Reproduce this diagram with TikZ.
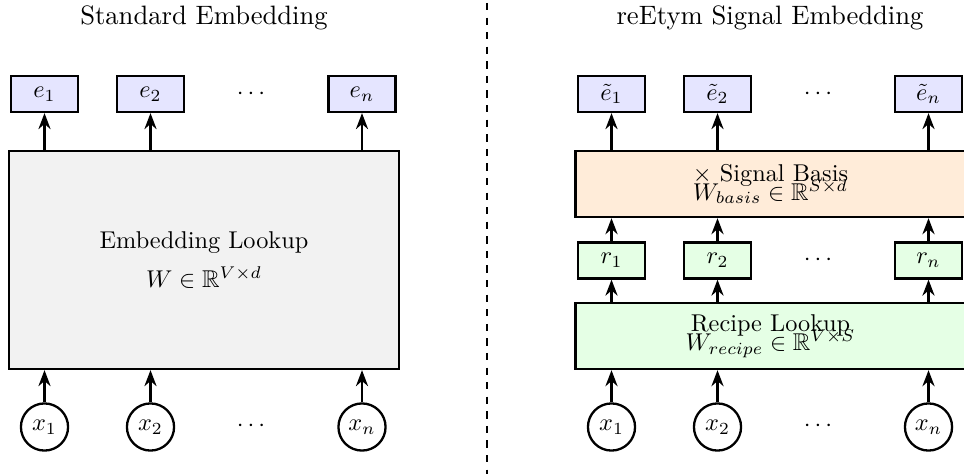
\documentclass[tikz,border=0pt]{standalone}
\usepackage{amsmath,amssymb}
\usetikzlibrary{arrows.meta}

\begin{document}
\begin{tikzpicture}[x=0.4115pt, y=-0.4115pt,
  lw/.style={line width=0.95pt},
  arr/.style={lw, -{Stealth[length=6.6pt, width=5pt]}},
  vecbox/.style={draw, lw, inner sep=0pt, minimum width=27.6pt, minimum height=14.8pt},
  embbox/.style={vecbox, fill=blue!10},
  recbox/.style={vecbox, fill=green!10},
  tokcirc/.style={draw, lw, circle, inner sep=0pt, minimum size=19.4pt},
  layerbox/.style={draw, lw, align=center, inner sep=0pt, minimum width=160.5pt},
  paneltitle/.style={anchor=base, font=\fontsize{10.95}{13.6}\selectfont},
  dotsnode/.style={inner sep=0pt}
]
\useasboundingbox (0,0) rectangle (964,474);

% divider between the two panels
\coordinate (divtop) at (487,3);
\coordinate (divbot) at (487,480);
\draw[lw, dashed] (divtop) -- (divbot);

% ---------------- standard embedding ----------------
\node[paneltitle] (tstd) at (204,25) {Standard Embedding};

\node[layerbox, fill=gray!10, minimum height=89.7pt] (lookup) at (204,260)
  {Embedding Lookup\\[4pt]$W \in \mathbb{R}^{V\times d}$};

\node[embbox] (e1) at (44.5,94) {$e_1$};
\node[embbox] (e2) at (150.5,94) {$e_2$};
\node[dotsnode] (edots) at (253,94) {$\cdots$};
\node[embbox] (en) at (362,94) {$e_n$};

\node[tokcirc] (x1) at (44.5,427) {$x_1$};
\node[tokcirc] (x2) at (150.5,427) {$x_2$};
\node[dotsnode] (xdots) at (253,426) {$\cdots$};
\node[tokcirc] (xn) at (362,427) {$x_n$};

\foreach \t in {1,2,n}{
  \draw[arr] (x\t) -- (x\t |- lookup.south);
  \draw[arr] (lookup.north -| e\t) -- (e\t);
}

% ---------------- reEtym signal embedding ----------------
\node[paneltitle] (tre) at (770,25) {reEtym Signal Embedding};

\node[layerbox, fill=orange!15, minimum height=27.2pt] (basis) at (770.5,184)
  {$\times$ Signal Basis\\[-4.2pt]$W_{basis} \in \mathbb{R}^{S\times d}$};
\node[layerbox, fill=green!10, minimum height=27.2pt] (recipe) at (770.5,336)
  {Recipe Lookup\\[-4.2pt]$W_{recipe} \in \mathbb{R}^{V\times S}$};

\node[embbox] (f1) at (611.5,94) {$\tilde{e}_1$};
\node[embbox] (f2) at (717.5,94) {$\tilde{e}_2$};
\node[dotsnode] (fdots) at (820,94) {$\cdots$};
\node[embbox] (fn) at (928.5,94) {$\tilde{e}_n$};

\node[recbox] (r1) at (611.5,260.5) {$r_1$};
\node[recbox] (r2) at (717.5,260.5) {$r_2$};
\node[dotsnode] (rdots) at (820,260) {$\cdots$};
\node[recbox] (rn) at (928.5,260.5) {$r_n$};

\node[tokcirc] (y1) at (611.5,427) {$x_1$};
\node[tokcirc] (y2) at (717.5,427) {$x_2$};
\node[dotsnode] (ydots) at (820,426) {$\cdots$};
\node[tokcirc] (yn) at (928.5,427) {$x_n$};

\foreach \t in {1,2,n}{
  \draw[arr] (y\t) -- (y\t |- recipe.south);
  \draw[arr] (recipe.north -| r\t) -- (r\t);
  \draw[arr] (r\t) -- (r\t |- basis.south);
  \draw[arr] (basis.north -| f\t) -- (f\t);
}
\end{tikzpicture}
\end{document}
